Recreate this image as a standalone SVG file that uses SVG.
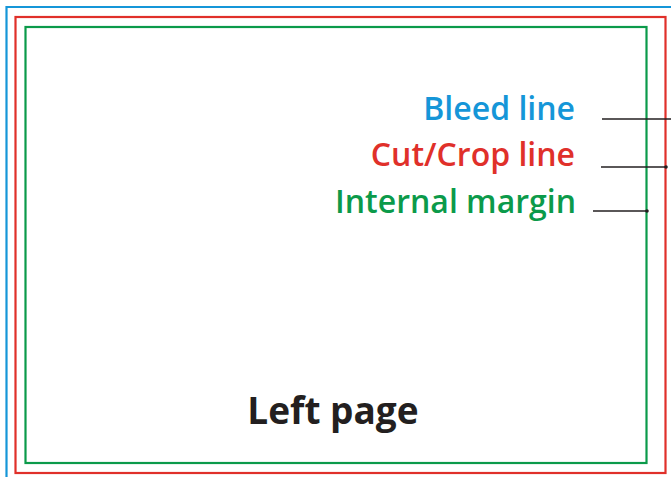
<svg xmlns="http://www.w3.org/2000/svg" width="671" height="477" viewBox="0 0 671 477">
<style>
.frame{fill:none;stroke-width:2.2}
.lbl{font-family:"Open Sans","Liberation Sans",sans-serif;font-weight:600;font-size:32px;text-anchor:end}
.lead{stroke:#231f20;stroke-width:1.4;fill:none}
</style>
<rect width="671" height="477" fill="#ffffff"/>
<g id="bleed">
<path class="frame" stroke="#1596d8" d="M6.5,477 V7 H680"/>
<text class="lbl" x="575" y="120" fill="#1596d8">Bleed line</text>
</g>
<g id="cut">
<rect class="frame" stroke="#e0302a" x="15.5" y="17" width="650" height="456"/>
<text class="lbl" x="575" y="166" fill="#e0302a">Cut/Crop line</text>
</g>
<g id="margin">
<rect class="frame" stroke="#0b9a4a" x="25.5" y="27" width="621" height="436"/>
<text class="lbl" x="576" y="213" fill="#0b9a4a">Internal margin</text>
</g>
<g id="page">
<text x="333" y="424" font-family="Open Sans, Liberation Sans, sans-serif" font-weight="700" font-size="37" fill="#231f20" text-anchor="middle">Left page</text>
</g>
<g id="connectors">
<line class="lead" x1="602" y1="119" x2="671" y2="119"/>
<line class="lead" x1="601" y1="167" x2="666" y2="167"/>
<circle cx="666" cy="167" r="1.8" fill="#231f20"/>
<line class="lead" x1="593" y1="211" x2="647" y2="211"/>
<circle cx="647" cy="211" r="1.8" fill="#231f20"/>
</g>
</svg>
